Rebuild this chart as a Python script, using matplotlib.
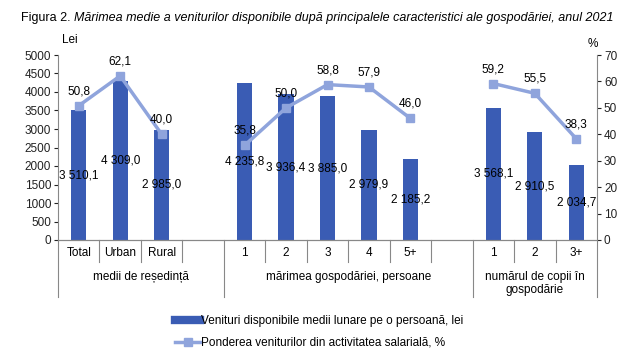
import numpy as np
import matplotlib
matplotlib.use("Agg")
import matplotlib.pyplot as plt
from matplotlib.transforms import blended_transform_factory
from matplotlib.lines import Line2D

plt.rcParams['font.family'] = ['Liberation Sans', 'DejaVu Sans']

# ---- data ----
cat_labels = ["Total", "Urban", "Rural", "", "1", "2", "3", "4", "5+", "", "1", "2", "3+"]
income = [3510.1, 4309.0, 2985.0, np.nan, 4235.8, 3936.4, 3885.0, 2979.9, 2185.2, np.nan, 3568.1, 2910.5, 2034.7]
share = [50.8, 62.1, 40.0, np.nan, 35.8, 50.0, 58.8, 57.9, 46.0, np.nan, 59.2, 55.5, 38.3]
groups = ["medii de reședință", "mărimea gospodăriei, persoane", "numărul de copii în\ngospodărie"]
group_spans = [(0, 4), (4, 10), (10, 13)]
bar_name = "Venituri disponibile medii lunare pe o persoană, lei"
line_name = "Ponderea veniturilor din activitatea salarială, %"
title_plain = "Figura 2. "
title_italic = "Mărimea medie a veniturilor disponibile după principalele caracteristici ale gospodăriei, anul 2021"

def fmt(v):
    return f"{v:,.1f}".replace(",", " ").replace(".", ",")

bar_color = "#3A5CB4"
line_color = "#8FA4DC"
fs = 8.5

W, H = 637, 356
fig = plt.figure(figsize=(W / 100, H / 100), dpi=100)
ax = fig.add_axes([58 / W, (H - 240) / H, (597 - 58) / W, (240 - 55) / H])
ax2 = ax.twinx()

n = len(cat_labels)
x = np.arange(n)
ax.set_xlim(-0.5, n - 0.5)
ax.bar(x, income, width=0.37, color=bar_color, zorder=2)
ax.set_ylim(0, 5000)
ax.set_yticks(np.arange(0, 5001, 500))
ax2.set_ylim(0, 70)
ax2.set_yticks(np.arange(0, 71, 10))

ax2.plot(x, share, color=line_color, lw=2.5, marker="s", markersize=6, zorder=3)

for xi, v in zip(x, income):
    if not np.isnan(v):
        ax.text(xi, v / 2, fmt(v), ha="center", va="center", fontsize=fs, zorder=4)
for xi, v in zip(x, share):
    if not np.isnan(v):
        ax2.text(xi, v + 3.2, fmt(v), ha="center", va="bottom", fontsize=fs, zorder=4)

for a in (ax, ax2):
    a.spines["top"].set_visible(False)
    a.tick_params(labelsize=fs, length=3, width=0.8, colors="#222222", pad=2)
    for s in a.spines.values():
        s.set_color("#888888")
ax2.spines["left"].set_visible(False)
ax.spines["right"].set_visible(False)
ax.set_xticks([])

# category labels and separators
trans = blended_transform_factory(ax.transData, ax.transAxes)
row1 = -22 / 185
row2 = -57 / 185
for xi, lab in zip(x, cat_labels):
    if lab:
        ax.text(xi, -13 / 185, lab, transform=trans, ha="center", va="center", fontsize=fs)
bounds_long = set()
for (s, e) in group_spans:
    bounds_long.add(s - 0.5)
    bounds_long.add(e - 0.5)
for b in np.arange(-0.5, n, 1.0):
    y0 = row2 if b in bounds_long else row1
    ax.add_line(Line2D([b, b], [0, y0], transform=trans, color="#888888", lw=0.8, clip_on=False))
for (s, e), g in zip(group_spans, groups):
    ax.text((s - 0.5 + e - 0.5) / 2, -31 / 185, g, transform=trans, ha="center", va="top",
            fontsize=fs, linespacing=1.15)

# axis titles
fig.text(62 / W, 1 - 40 / H, "Lei", fontsize=fs, ha="left", va="center")
fig.text(593 / W, 1 - 44 / H, "%", fontsize=fs, ha="center", va="center")

# title
tfs = 9
t1 = fig.text(0.5, 1 - 18 / H, title_plain + title_italic, fontsize=tfs, ha="center", va="center", alpha=0)
fig.canvas.draw()
bb = t1.get_window_extent()
tp = fig.text(bb.x0 / W, 1 - 18 / H, title_plain, fontsize=tfs, ha="left", va="center")
bb2 = tp.get_window_extent()
fig.text(bb2.x1 / W, 1 - 18 / H, title_italic, fontsize=tfs, ha="left", va="center", style="italic")

# legend
handles = [Line2D([0], [0], color=bar_color, lw=6),
           Line2D([0], [0], color=line_color, lw=2.5, marker="s", markersize=6)]
fig.legend(handles, [bar_name, line_name], loc="center left", bbox_to_anchor=(167 / W, 1 - 332 / H),
           frameon=False, fontsize=fs, handlelength=2.1, handletextpad=0.12, labelspacing=0.8,
           borderpad=0.2)

fig.savefig("out.png", dpi=100)
